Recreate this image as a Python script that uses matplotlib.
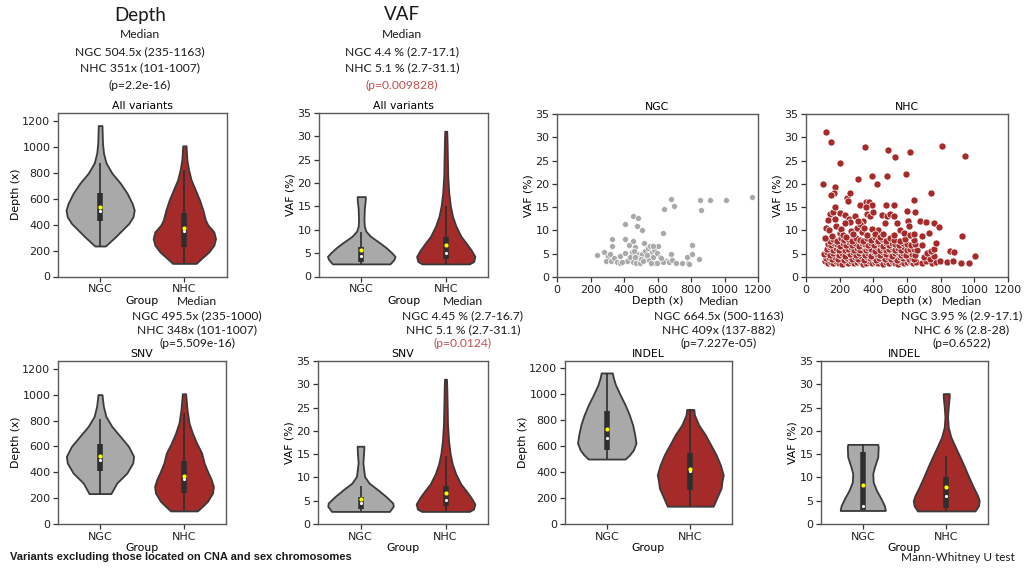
import matplotlib
matplotlib.use("Agg")
import matplotlib.pyplot as plt
import numpy as np

# ---------------- data ----------------
groups = ["NGC", "NHC"]

# violin density profiles (value levels, relative half-width)
depth_all_ngc_y = [235, 305, 357, 409, 460, 512, 564, 642, 719, 797, 875, 952, 1030, 1163]
depth_all_ngc_d = [0.063, 0.18, 0.26, 0.34, 0.39, 0.405, 0.38, 0.32, 0.24, 0.14, 0.07, 0.04, 0.028, 0.022]
depth_all_nhc_y = [101, 137, 189, 241, 292, 344, 396, 435, 512, 590, 668, 745, 823, 900, 1007]
depth_all_nhc_d = [0.14, 0.20, 0.29, 0.35, 0.37, 0.35, 0.28, 0.25, 0.22, 0.18, 0.13, 0.08, 0.05, 0.03, 0.02]

vaf_all_ngc_y = [2.7, 3.6, 4.3, 5.0, 6.1, 7.2, 8.6, 9.7, 10.8, 12.2, 14.4, 16.5, 17.1]
vaf_all_ngc_d = [0.34, 0.385, 0.40, 0.365, 0.30, 0.22, 0.11, 0.055, 0.036, 0.032, 0.036, 0.048, 0.048]
vaf_all_nhc_y = [2.7, 3.2, 4.3, 5.7, 7.2, 8.6, 10.8, 12.9, 15.1, 17.9, 21.5, 25.1, 28.7, 31.1]
vaf_all_nhc_d = [0.28, 0.33, 0.345, 0.30, 0.24, 0.18, 0.12, 0.08, 0.055, 0.036, 0.024, 0.02, 0.016, 0.012]

depth_snv_ngc_y = [235, 317, 394, 472, 523, 600, 678, 755, 832, 910, 1000]
depth_snv_ngc_d = [0.13, 0.20, 0.32, 0.39, 0.40, 0.34, 0.24, 0.14, 0.07, 0.04, 0.024]
depth_snv_nhc_y = [101, 137, 175, 240, 291, 343, 407, 472, 549, 626, 703, 781, 884, 1007]
depth_snv_nhc_d = [0.16, 0.22, 0.28, 0.34, 0.35, 0.325, 0.28, 0.24, 0.21, 0.15, 0.10, 0.06, 0.036, 0.02]

vaf_snv_ngc_y = [2.7, 3.8, 4.5, 5.9, 7.4, 8.8, 10.2, 13.1, 15.2, 16.7]
vaf_snv_ngc_d = [0.34, 0.385, 0.38, 0.30, 0.20, 0.10, 0.048, 0.028, 0.036, 0.04]
vaf_snv_nhc_y = [2.7, 3.2, 4.3, 5.7, 7.2, 8.6, 10.8, 12.9, 15.1, 17.9, 21.5, 25.1, 28.7, 31.1]
vaf_snv_nhc_d = [0.28, 0.33, 0.345, 0.30, 0.24, 0.18, 0.12, 0.08, 0.055, 0.036, 0.024, 0.02, 0.016, 0.012]

depth_indel_ngc_y = [500, 533, 572, 623, 687, 764, 841, 918, 995, 1072, 1123, 1163]
depth_indel_ngc_d = [0.22, 0.275, 0.32, 0.35, 0.335, 0.31, 0.27, 0.22, 0.16, 0.105, 0.08, 0.067]
depth_indel_nhc_y = [137, 174, 226, 277, 328, 379, 456, 533, 610, 687, 764, 841, 882]
depth_indel_nhc_d = [0.275, 0.30, 0.335, 0.37, 0.38, 0.395, 0.36, 0.31, 0.245, 0.18, 0.10, 0.05, 0.043]

vaf_indel_ngc_y = [2.9, 3.9, 5.4, 7.2, 9.0, 10.8, 12.2, 14.4, 16.5, 17.1]
vaf_indel_ngc_d = [0.27, 0.26, 0.22, 0.165, 0.125, 0.12, 0.14, 0.18, 0.185, 0.18]
vaf_indel_nhc_y = [2.8, 3.9, 5.0, 6.1, 7.9, 10.1, 12.2, 14.4, 16.5, 18.7, 20.8, 23.0, 25.1, 27.3, 28.0]
vaf_indel_nhc_d = [0.345, 0.385, 0.395, 0.375, 0.325, 0.27, 0.22, 0.165, 0.11, 0.055, 0.024, 0.016, 0.024, 0.036, 0.036]

# box stats: q1, median, q3, whisker low, whisker high, mean
depth_all_stats = [(427, 504.5, 642, 235, 875, 538), (228, 351, 486, 101, 820, 370)]
vaf_all_stats = [(3.2, 4.4, 6.3, 2.7, 9.6, 5.7), (3.8, 5.1, 8.4, 2.7, 15.0, 6.8)]
depth_snv_stats = [(412, 495.5, 621, 235, 812, 525), (240, 348, 485, 101, 860, 372)]
vaf_snv_stats = [(3.2, 4.45, 5.8, 2.7, 8.2, 5.4), (3.8, 5.1, 8.1, 2.7, 14.5, 6.7)]
depth_indel_stats = [(572, 664.5, 867, 500, 1163, 731), (264, 409, 546, 137, 882, 423)]
vaf_indel_stats = [(2.9, 3.95, 15.4, 2.9, 17.1, 8.4), (3.4, 6.0, 10.1, 2.8, 14.5, 8.0)]

# scatter: NGC variants (depth, VAF)
ngc_points = [
    (238, 4.7), (278, 5.4), (302, 4.6), (294, 3.4), (317, 4.9), (321, 3.4), (327, 6.6), (327, 8.1),
    (341, 4.1), (357, 3.3), (377, 4.6), (377, 3.1), (407, 5.1), (407, 8.1), (407, 11.4), (427, 6.9),
    (427, 3.7), (446, 5.3), (452, 3.3), (456, 7.8), (456, 13.0), (466, 6.4), (472, 3.0), (476, 11.0),
    (480, 4.9), (486, 12.6), (492, 4.1), (496, 3.0), (506, 10.0), (506, 4.9), (520, 7.3), (526, 5.6),
    (532, 4.1), (546, 6.2), (552, 3.6), (556, 6.7), (565, 5.3), (575, 4.4), (579, 5.9), (585, 3.1),
    (595, 5.1), (599, 3.0), (605, 6.6), (615, 4.4), (625, 3.6), (631, 9.4), (639, 14.6), (651, 3.5),
    (671, 3.2), (679, 16.7), (679, 4.9), (685, 3.6), (700, 15.3), (710, 3.0), (744, 2.9), (774, 4.3),
    (780, 3.1), (790, 2.7), (804, 4.9), (804, 6.9), (849, 3.9), (853, 16.6), (859, 14.4), (913, 16.6),
    (1006, 16.5), (1167, 17.1), (417, 3.4), (437, 4.4), (466, 4.4), (500, 3.9), (512, 3.4), (560, 3.0),
    (571, 6.6), (635, 3.3), (390, 3.2), (460, 5.6), (540, 4.7), (620, 4.1),
]

# scatter: NHC variants (depth, VAF)
nhc_points = [
    # low VAF band ~3
    (112, 3.4), (128, 3.0), (146, 3.3), (163, 2.9), (181, 3.5), (197, 3.1), (214, 2.8), (236, 3.3),
    (252, 3.0), (268, 3.4), (287, 2.9), (305, 3.2), (322, 3.5), (338, 2.8), (356, 3.1), (373, 3.4),
    (391, 2.9), (408, 3.3), (426, 3.0), (444, 3.5), (459, 2.8), (477, 3.2), (495, 2.9), (512, 3.4),
    (531, 3.1), (548, 2.8), (566, 3.3), (583, 2.9), (601, 3.2), (619, 3.5), (636, 2.9), (652, 3.3),
    (688, 3.0), (712, 3.4), (748, 2.9), (770, 3.2), (795, 3.5), (838, 3.3), (876, 3.4), (920, 3.0),
    (970, 2.9),
    # ~4
    (118, 4.0), (137, 4.4), (155, 3.8), (172, 4.2), (190, 3.9), (207, 4.5), (224, 3.7), (243, 4.1),
    (259, 4.4), (276, 3.8), (294, 4.3), (311, 3.9), (329, 4.5), (347, 3.7), (364, 4.2), (381, 4.0),
    (399, 4.4), (416, 3.7), (434, 4.1), (451, 4.5), (469, 3.8), (487, 4.3), (504, 3.9), (521, 4.4),
    (539, 3.7), (557, 4.2), (574, 4.0), (592, 4.5), (609, 3.8), (627, 4.1), (644, 3.9), (700, 4.3),
    (735, 3.8), (760, 4.5), (1005, 4.5),
    # ~5
    (105, 4.9), (108, 5.0), (123, 5.3), (141, 4.7), (159, 5.1), (176, 5.5), (194, 4.8), (211, 5.2),
    (229, 4.6), (247, 5.4), (264, 4.9), (282, 5.3), (299, 4.7), (317, 5.1), (334, 5.5), (352, 4.8),
    (369, 5.2), (387, 4.6), (404, 5.4), (421, 5.0), (439, 4.7), (457, 5.3), (474, 4.9), (492, 5.5),
    (509, 4.6), (527, 5.1), (544, 5.4), (562, 4.8), (579, 5.2), (597, 4.7), (614, 5.5), (632, 5.0),
    (648, 4.8), (720, 5.1), (745, 5.5), (855, 5.5), (880, 5.3),
    # ~6
    (125, 6.0), (142, 6.4), (160, 5.7), (178, 6.2), (196, 5.9), (213, 6.5), (231, 5.8), (248, 6.1),
    (266, 6.4), (284, 5.7), (301, 6.3), (319, 5.9), (336, 6.5), (354, 5.8), (371, 6.2), (389, 6.0),
    (407, 5.6), (424, 6.4), (442, 5.9), (460, 6.3), (477, 5.7), (495, 6.1), (512, 6.5), (530, 5.8),
    (547, 6.2), (565, 5.9), (583, 6.4), (600, 5.7), (618, 6.1), (640, 6.0), (660, 5.9), (760, 6.0),
    # ~7
    (130, 7.0), (150, 6.8), (168, 7.4), (186, 7.0), (204, 6.7), (222, 7.3), (240, 6.9), (258, 7.5),
    (276, 6.8), (294, 7.2), (312, 6.7), (330, 7.4), (348, 7.0), (366, 6.8), (384, 7.3), (402, 6.9),
    (420, 7.5), (438, 7.1), (456, 6.7), (474, 7.2), (492, 6.9), (510, 7.4), (530, 7.0), (552, 6.8),
    (575, 7.3), (600, 7.1), (625, 6.8), (645, 7.0), (775, 7.3), (690, 6.8),
    # ~8
    (115, 8.3), (140, 7.8), (162, 8.2), (184, 7.7), (205, 8.4), (228, 7.9), (250, 8.2), (272, 7.7),
    (295, 8.4), (318, 8.0), (340, 7.8), (362, 8.3), (385, 7.9), (408, 8.5), (430, 7.7), (452, 8.1),
    (475, 7.8), (500, 8.3), (525, 8.0), (560, 7.8), (590, 8.2), (640, 8.0),
    # 8-15
    (145, 13.5), (160, 14.0), (200, 13.8), (230, 13.3), (255, 12.5), (260, 11.8), (300, 10.5),
    (340, 12.0), (360, 13.5), (380, 13.0), (400, 14.0), (430, 10.0), (450, 13.3), (480, 13.0),
    (500, 13.5), (525, 13.2), (540, 11.5), (600, 14.1), (605, 12.0), (610, 11.0), (650, 14.0),
    (680, 12.0), (690, 8.7), (715, 11.9), (730, 9.5), (760, 11.7), (790, 10.7), (925, 8.8),
    (120, 10.5), (130, 12.2), (135, 10.0), (180, 11.0), (200, 9.5), (210, 10.3), (220, 9.0),
    (240, 8.5), (270, 9.8), (280, 9.2), (320, 11.3), (330, 9.6), (345, 10.5), (360, 9.0),
    (390, 10.2), (410, 9.2), (440, 8.5), (460, 9.3), (470, 11.5), (520, 9.0), (560, 10.0),
    (580, 9.5), (620, 9.0), (640, 9.2), (170, 12.5), (155, 8.7), (110, 8.3), (230, 11.5),
    (290, 13.0), (310, 12.0),
    # >15
    (118, 31.1), (150, 29.0), (200, 24.5), (100, 20.0), (170, 19.3), (165, 18.0), (150, 17.5),
    (245, 17.0), (262, 18.0), (250, 16.4), (175, 15.0), (310, 21.0), (350, 28.0), (395, 21.7),
    (420, 20.0), (355, 16.0), (375, 16.2), (390, 15.5), (480, 21.6), (490, 27.3), (530, 25.8),
    (595, 22.2), (615, 26.8), (475, 15.5), (520, 15.5), (640, 16.6), (740, 18.0), (810, 28.2),
    (945, 26.0), (320, 15.5), (355, 15.0),
]

# annotation texts
depth_title = "Depth"
vaf_title = "VAF"
depth_all_txt = ["Median", "NGC 504.5x (235-1163)", "NHC 351x (101-1007)", "(p=2.2e-16)"]
vaf_all_txt = ["Median", "NGC 4.4 % (2.7-17.1)", "NHC 5.1 % (2.7-31.1)", "(p=0.009828)"]
depth_snv_txt = ["Median", "NGC 495.5x (235-1000)", "NHC 348x (101-1007)", "(p=5.509e-16)"]
vaf_snv_txt = ["Median", "NGC 4.45 % (2.7-16.7)", "NHC 5.1 % (2.7-31.1)", "(p=0.0124)"]
depth_indel_txt = ["Median", "NGC 664.5x (500-1163)", "NHC 409x (137-882)", "(p=7.227e-05)"]
vaf_indel_txt = ["Median", "NGC 3.95 % (2.9-17.1)", "NHC 6 % (2.8-28)", "(p=0.6522)"]
footer_left = "Variants excluding those located on CNA and sex chromosomes"
footer_right = "Mann-Whitney U test"

# ---------------- style ----------------
GRAY = "#a9a9a9"
RED = "#a52a2a"
EDGE = "#3a3a3a"
PRED = "#c0504d"
TXT = "#1a1a1a"
ANN_FONT = ["Lato", "DejaVu Sans"]

W, H = 1024, 569
fig = plt.figure(figsize=(W / 100, H / 100), dpi=100)


def add_ax(l, t, r, b):
    return fig.add_axes([l / W, 1 - b / H, (r - l) / W, (b - t) / H])


def style(ax):
    for s in ax.spines.values():
        s.set_color("#5a5a5a")
        s.set_linewidth(1.0)
    ax.tick_params(axis="both", labelsize=8, length=3.5, width=0.9,
                   color="#333333", pad=2, labelcolor="#222222")


def violin_panel(ax, profiles, stats, ymax, yticks, ylabel, title):
    for i, ((ys, ds), st, col) in enumerate(zip(profiles, stats, [GRAY, RED])):
        ys = np.asarray(ys, float)
        ds = np.asarray(ds, float)
        ax.fill_betweenx(ys, i - ds, i + ds, facecolor=col, edgecolor=EDGE,
                         linewidth=1.3, zorder=2)
        q1, med, q3, lo, hi, mean = st
        ax.vlines(i, lo, hi, color="#2e2e2e", lw=1.2, zorder=3)
        ax.vlines(i, q1, q3, color="#2e2e2e", lw=4.0, zorder=3)
        ax.scatter([i], [med], s=5, c="white", zorder=4, linewidths=0)
        ax.scatter([i], [mean], s=9, c="#ffff00", zorder=5, linewidths=0)
    ax.set_xlim(-0.5, 1.5)
    ax.set_ylim(0, ymax)
    ax.set_yticks(yticks)
    ax.set_xticks([0, 1])
    ax.set_xticklabels(groups)
    ax.set_ylabel(ylabel, fontsize=7.8, labelpad=1)
    ax.set_xlabel("Group", fontsize=7.8, labelpad=1)
    ax.set_title(title, fontsize=7.8, pad=3)
    style(ax)


def scatter_panel(ax, pts, col, title, size):
    x = [p[0] for p in pts]
    y = [p[1] for p in pts]
    ax.scatter(x, y, s=size, c=col, edgecolors="white", linewidths=0.5, zorder=2)
    ax.set_xlim(0, 1200)
    ax.set_ylim(0, 35)
    ax.set_xticks(range(0, 1201, 200))
    ax.set_yticks(range(0, 36, 5))
    ax.set_xlabel("Depth (x)", fontsize=7.8, labelpad=1)
    ax.set_ylabel("VAF (%)", fontsize=7.8, labelpad=1)
    ax.set_title(title, fontsize=7.8, pad=3)
    style(ax)


depth_ticks = range(0, 1201, 200)
vaf_ticks = range(0, 36, 5)

ax1 = add_ax(58, 113, 226.5, 276.5)
violin_panel(ax1, [(depth_all_ngc_y, depth_all_ngc_d), (depth_all_nhc_y, depth_all_nhc_d)],
             depth_all_stats, 1260, depth_ticks, "Depth (x)", "All variants")
ax2 = add_ax(319, 113, 488, 276.5)
violin_panel(ax2, [(vaf_all_ngc_y, vaf_all_ngc_d), (vaf_all_nhc_y, vaf_all_nhc_d)],
             vaf_all_stats, 35, vaf_ticks, "VAF (%)", "All variants")
ax3 = add_ax(557, 114, 758, 277)
scatter_panel(ax3, ngc_points, GRAY, "NGC", 19)
ax4 = add_ax(806, 114, 1008, 277)
scatter_panel(ax4, nhc_points, RED, "NHC", 26)

ax5 = add_ax(58, 361, 226, 524)
violin_panel(ax5, [(depth_snv_ngc_y, depth_snv_ngc_d), (depth_snv_nhc_y, depth_snv_nhc_d)],
             depth_snv_stats, 1260, depth_ticks, "Depth (x)", "SNV")
ax6 = add_ax(318, 361, 488, 524)
violin_panel(ax6, [(vaf_snv_ngc_y, vaf_snv_ngc_d), (vaf_snv_nhc_y, vaf_snv_nhc_d)],
             vaf_snv_stats, 35, vaf_ticks, "VAF (%)", "SNV")
ax7 = add_ax(565, 361, 732, 524)
violin_panel(ax7, [(depth_indel_ngc_y, depth_indel_ngc_d), (depth_indel_nhc_y, depth_indel_nhc_d)],
             depth_indel_stats, 1255, depth_ticks, "Depth (x)", "INDEL")
ax8 = add_ax(821, 361, 988, 524)
violin_panel(ax8, [(vaf_indel_ngc_y, vaf_indel_ngc_d), (vaf_indel_nhc_y, vaf_indel_nhc_d)],
             vaf_indel_stats, 35, vaf_ticks, "VAF (%)", "INDEL")


def ftext(x, y, s, **kw):
    kw.setdefault("family", ANN_FONT)
    kw.setdefault("color", TXT)
    fig.text(x / W, 1 - y / H, s, ha=kw.pop("ha", "center"), va="center", **kw)


def block(cx, ys, lines, red_p):
    for yy, line in zip(ys, lines):
        col = PRED if (red_p and line.startswith("(p=")) else TXT
        ftext(cx, yy, line, fontsize=8.7, color=col)


ftext(140, 15, depth_title, fontsize=13.5)
ftext(402, 15, vaf_title, fontsize=13.5)
top_ys = [35, 51.5, 68, 85]
block(140, top_ys, depth_all_txt, False)
block(402, top_ys, vaf_all_txt, True)

bot_ys = [302, 316, 330, 343.5]
block(197, bot_ys, depth_snv_txt, False)
block(463, bot_ys, vaf_snv_txt, True)
block(719, bot_ys, depth_indel_txt, False)
block(962, bot_ys, vaf_indel_txt, False)

ftext(10, 557, footer_left, fontsize=8.0, ha="left",
      family=["Liberation Sans Narrow", "Liberation Sans", "DejaVu Sans"], weight="bold")
ftext(1015, 557.5, footer_right, fontsize=8.5, ha="right")

fig.savefig("out.png", dpi=100)
